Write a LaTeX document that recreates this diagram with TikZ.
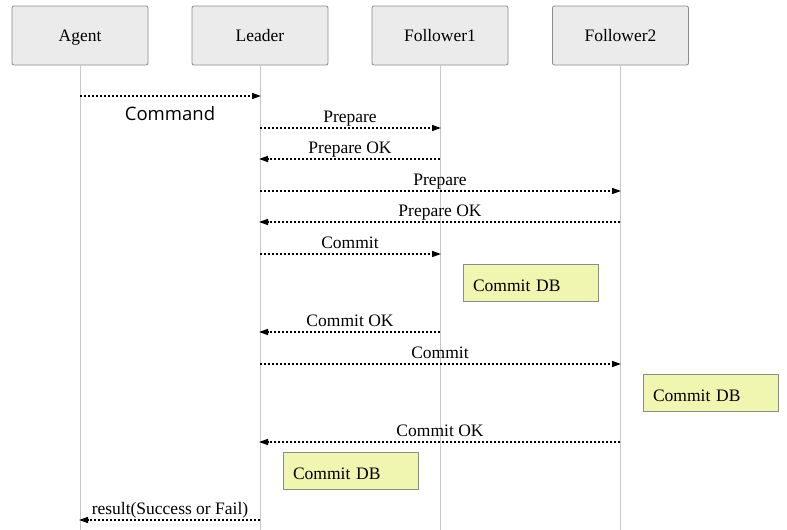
\documentclass[tikz,border=0pt]{standalone}
\usepackage{fontspec}
\setmainfont{Liberation Serif}
\newfontfamily\cmdfont{Open Sans}
\usetikzlibrary{arrows.meta}
\begin{document}
\begin{tikzpicture}[x=1pt,y=-1pt,
  every node/.style={font=\fontsize{17.5}{20}\selectfont},
  actor/.style={draw=black!45,fill=black!8,rounded corners=2pt,line width=0.8pt,minimum width=136pt,minimum height=59pt,inner sep=0pt,text height=11.5pt,text depth=0pt},
  lifeline/.style={draw=black!22,line width=0.8pt},
  msg/.style={draw=black,line width=1.4pt,dash pattern=on 2pt off 2pt,-{Triangle[length=9pt,width=6pt]}},
  lbl/.style={inner sep=1pt,anchor=base},
  notebox/.style={draw=black!45,fill={rgb,255:red,240;green,245;blue,176},line width=0.8pt,minimum width=135pt,minimum height=37pt,inner sep=0pt,text width=115pt,align=left,text height=17pt,text depth=0pt}]
\useasboundingbox (0,0) rectangle (787,530);
% actors
\node[actor] (agent) at (80,35.5) {Agent};
\node[actor] (leader) at (260,35.5) {Leader};
\node[actor] (f1) at (440,35.5) {Follower1};
\node[actor] (f2) at (620.5,35.5) {Follower2};
% lifeline ends
\coordinate (agentE) at (80,530);
\coordinate (leaderE) at (260,530);
\coordinate (f1E) at (440,530);
\coordinate (f2E) at (620.5,530);
\draw[lifeline] (agent.south) -- (agentE);
\draw[lifeline] (leader.south) -- (leaderE);
\draw[lifeline] (f1.south) -- (f1E);
\draw[lifeline] (f2.south) -- (f2E);
% message points
\coordinate (a1) at (80,96);   \coordinate (l1) at (261,96);
\coordinate (l2) at (260,128); \coordinate (f12) at (441,128);
\coordinate (f13) at (440,159); \coordinate (l3) at (259,159);
\coordinate (l4) at (260,191); \coordinate (f24) at (621,191);
\coordinate (f25) at (620,222); \coordinate (l5) at (259,222);
\coordinate (l6) at (260,254); \coordinate (f16) at (441,254);
\coordinate (f17) at (440,332); \coordinate (l7) at (259,332);
\coordinate (l8) at (260,364); \coordinate (f28) at (621,364);
\coordinate (f29) at (620,442); \coordinate (l9) at (259,442);
\coordinate (l10) at (260,520); \coordinate (a10) at (79,520);
% messages
\draw[msg] (a1) -- (l1);
\node[lbl,font=\cmdfont\fontsize{18.5}{20}\selectfont] (t1) at (170,120) {Command};
\draw[msg] (l2) -- (f12);
\node[lbl] (t2) at (350,122) {Prepare};
\draw[msg] (f13) -- (l3);
\node[lbl] (t3) at (350,153.5) {Prepare OK};
\draw[msg] (l4) -- (f24);
\node[lbl] (t4) at (440,185) {Prepare};
\draw[msg] (f25) -- (l5);
\node[lbl] (t5) at (440,216.5) {Prepare OK};
\draw[msg] (l6) -- (f16);
\node[lbl] (t6) at (350,248) {Commit};
\node[notebox] (db1) at (530.5,282.5) {Commit DB};
\draw[msg] (f17) -- (l7);
\node[lbl] (t7) at (350,326.5) {Commit OK};
\draw[msg] (l8) -- (f28);
\node[lbl] (t8) at (440,358) {Commit};
\node[notebox] (db2) at (710.5,392.5) {Commit DB};
\draw[msg] (f29) -- (l9);
\node[lbl] (t9) at (440,436.5) {Commit OK};
\node[notebox] (db3) at (350.5,470.5) {Commit DB};
\draw[msg] (l10) -- (a10);
\node[lbl] (t10) at (170,514) {result(Success or Fail)};
\end{tikzpicture}
\end{document}
